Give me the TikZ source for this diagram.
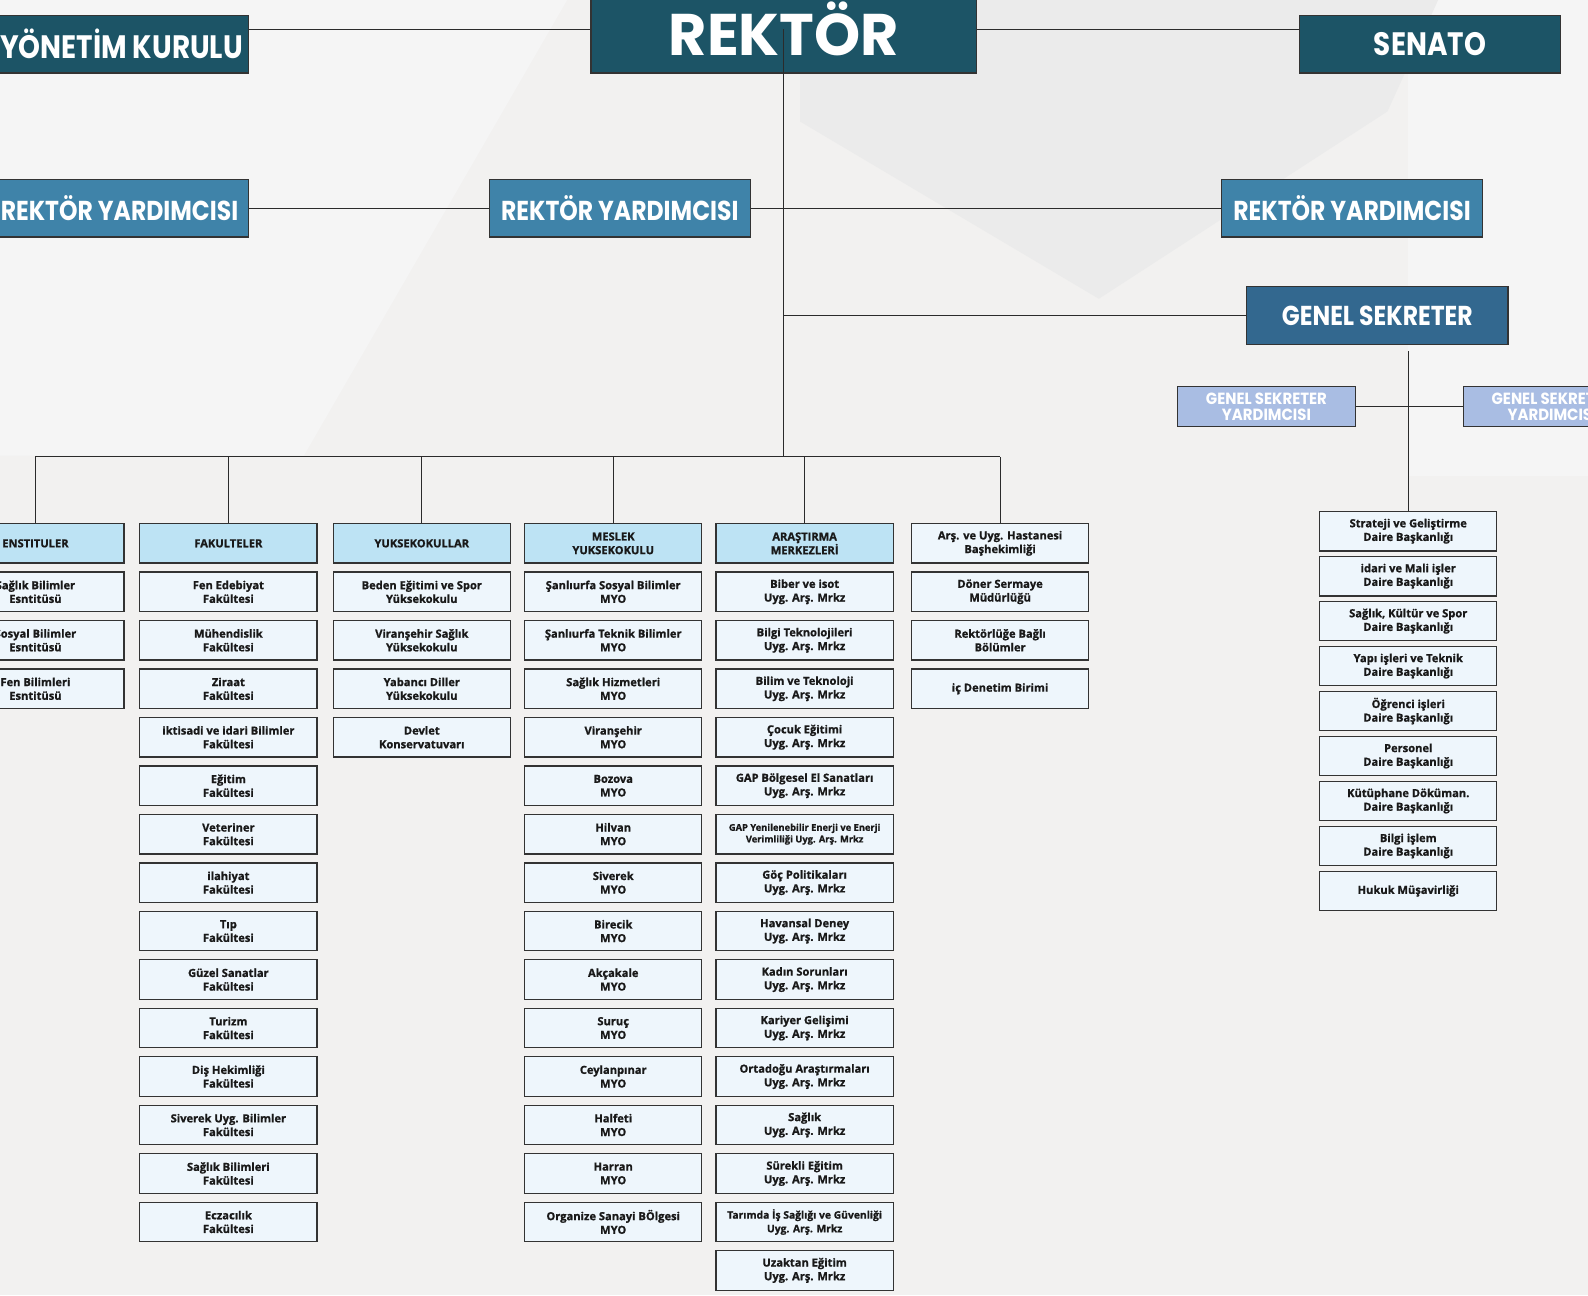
\documentclass[tikz,border=0pt]{standalone}
\usepackage{fontspec}
\usepackage{tikz}
\usetikzlibrary{positioning}
\newfontfamily\headfont[FakeStretch=0.86]{Poppins}
\newfontfamily\assistfont[FakeStretch=0.92]{Poppins}
\newfontfamily\bigfont{Poppins}
\newfontfamily\unitfont[BoldFeatures={FakeBold=1.0}]{Open Sans}
\definecolor{pagebg}{HTML}{F2F1F0}
\definecolor{shadebg}{HTML}{EBEBEB}
\definecolor{lightbg}{HTML}{F5F5F5}
\definecolor{rectorteal}{HTML}{1C5466}
\definecolor{deputyblue}{HTML}{3F83A9}
\definecolor{secblue}{HTML}{33688F}
\definecolor{assistblue}{HTML}{A9BDE3}
\definecolor{headblue}{HTML}{BDE3F4}
\definecolor{unitbg}{HTML}{EEF6FC}
\definecolor{edgegray}{HTML}{333333}
\definecolor{linegray}{HTML}{2B2B2B}

\begin{document}
\begin{tikzpicture}[x=1pt, y=-1pt,
    node distance=7.66pt,
    topbox/.style={rectangle, draw=edgegray, line width=1.2pt, fill=rectorteal, text=white, minimum width=258pt, minimum height=57pt, inner sep=0pt, font=\headfont\bfseries\fontsize{27}{30}\selectfont},
    deputy/.style={topbox, fill=deputyblue},
    secbox/.style={topbox, fill=secblue},
    assist/.style={rectangle, draw=edgegray, line width=1pt, fill=assistblue, text=white, minimum width=175pt, minimum height=39pt, inner sep=0pt, align=center, font=\assistfont\bfseries\fontsize{16}{16}\selectfont},
    unit/.style={rectangle, draw=edgegray, line width=1.2pt, fill=unitbg, text=black!90, minimum width=175pt, minimum height=39pt, inner sep=1pt, align=center, font=\unitfont\bfseries\fontsize{11}{13.5}\selectfont},
    head/.style={unit, fill=headblue},
    dept/.style={unit, below=4.2pt of #1},
    link/.style={draw=linegray, line width=1.1pt}
]

\useasboundingbox (0,0) rectangle (1568,1279);
\fill[pagebg] (0,0) rectangle (1568,1279);
\fill[lightbg] (0,0) -- (560,0) -- (300,450) -- (0,450) -- cycle;
\fill[lightbg] (1390,0) -- (1568,0) -- (1568,470) -- (1390,470) -- cycle;
\fill[shadebg] (790,0) -- (1420,0) -- (1370,110) -- (1085,295) -- (790,120) -- cycle;

\node[topbox, minimum width=381pt, minimum height=86pt, font=\bigfont\bfseries\fontsize{58}{60}\selectfont] (rektor) at (774,29) {REKTÖR};
\node[topbox, minimum width=250pt, font=\headfont\bfseries\fontsize{32}{34}\selectfont] (yk) at (120,43.5) {YÖNETİM KURULU};
\node[topbox, font=\headfont\bfseries\fontsize{32}{34}\selectfont] (senato) at (1412,43.5) {SENATO};
\node[deputy, minimum width=254pt] (ryleft) at (118,205.5) {REKTÖR YARDIMCISI};
\node[deputy] (rymid) at (612,205.5) {REKTÖR YARDIMCISI};
\node[deputy] (ryright) at (1335,205.5) {REKTÖR YARDIMCISI};
\node[secbox] (gensek) at (1360,311.5) {GENEL SEKRETER};
\node[assist] (gsyleft) at (1250.5,401.5) {GENEL SEKRETER\\YARDIMCISI};
\node[assist] (gsyright) at (1532.5,401.5) {GENEL SEKRETER\\YARDIMCISI};

\node[head] (enst) at (35,536.5) {ENSTITULER};
\node[head] (fak) at (225.5,536.5) {FAKULTELER};
\node[head] (yuk) at (416.5,536.5) {YUKSEKOKULLAR};
\node[head] (myo) at (605.5,536.5) {MESLEK\\YUKSEKOKULU};
\node[head] (arge) at (794.5,536.5) {ARAŞTIRMA\\MERKEZLERİ};
\node[unit] (hast) at (987.5,536.5) {Arş. ve Uyg. Hastanesi\\Başhekimliği};

\node[unit, below=of enst] (enst1) {Sağlık Bilimler\\Esntitüsü};
\node[unit, below=of enst1] (enst2) {Sosyal Bilimler\\Esntitüsü};
\node[unit, below=of enst2] (enst3) {Fen Bilimleri\\Esntitüsü};

\node[unit, below=of fak] (fak1) {Fen Edebiyat\\Fakültesi};
\node[unit, below=of fak1] (fak2) {Mühendislik\\Fakültesi};
\node[unit, below=of fak2] (fak3) {Ziraat\\Fakültesi};
\node[unit, below=of fak3] (fak4) {iktisadi ve idari Bilimler\\Fakültesi};
\node[unit, below=of fak4] (fak5) {Eğitim\\Fakültesi};
\node[unit, below=of fak5] (fak6) {Veteriner\\Fakültesi};
\node[unit, below=of fak6] (fak7) {ilahiyat\\Fakültesi};
\node[unit, below=of fak7] (fak8) {Tıp\\Fakültesi};
\node[unit, below=of fak8] (fak9) {Güzel Sanatlar\\Fakültesi};
\node[unit, below=of fak9] (fak10) {Turizm\\Fakültesi};
\node[unit, below=of fak10] (fak11) {Diş Hekimliği\\Fakültesi};
\node[unit, below=of fak11] (fak12) {Siverek Uyg. Bilimler\\Fakültesi};
\node[unit, below=of fak12] (fak13) {Sağlık Bilimleri\\Fakültesi};
\node[unit, below=of fak13] (fak14) {Eczacılık\\Fakültesi};

\node[unit, below=of yuk] (yuk1) {Beden Eğitimi ve Spor\\Yüksekokulu};
\node[unit, below=of yuk1] (yuk2) {Viranşehir Sağlık\\Yüksekokulu};
\node[unit, below=of yuk2] (yuk3) {Yabancı Diller\\Yüksekokulu};
\node[unit, below=of yuk3] (yuk4) {Devlet\\Konservatuvarı};

\node[unit, below=of myo] (myo1) {Şanlıurfa Sosyal Bilimler\\MYO};
\node[unit, below=of myo1] (myo2) {Şanlıurfa Teknik Bilimler\\MYO};
\node[unit, below=of myo2] (myo3) {Sağlık Hizmetleri\\MYO};
\node[unit, below=of myo3] (myo4) {Viranşehir\\MYO};
\node[unit, below=of myo4] (myo5) {Bozova\\MYO};
\node[unit, below=of myo5] (myo6) {Hilvan\\MYO};
\node[unit, below=of myo6] (myo7) {Siverek\\MYO};
\node[unit, below=of myo7] (myo8) {Birecik\\MYO};
\node[unit, below=of myo8] (myo9) {Akçakale\\MYO};
\node[unit, below=of myo9] (myo10) {Suruç\\MYO};
\node[unit, below=of myo10] (myo11) {Ceylanpınar\\MYO};
\node[unit, below=of myo11] (myo12) {Halfeti\\MYO};
\node[unit, below=of myo12] (myo13) {Harran\\MYO};
\node[unit, below=of myo13] (myo14) {Organize Sanayi BÖlgesi\\MYO};

\node[unit, below=of arge] (arge1) {Biber ve isot\\Uyg. Arş. Mrkz};
\node[unit, below=of arge1] (arge2) {Bilgi Teknolojileri\\Uyg. Arş. Mrkz};
\node[unit, below=of arge2] (arge3) {Bilim ve Teknoloji\\Uyg. Arş. Mrkz};
\node[unit, below=of arge3] (arge4) {Çocuk Eğitimi\\Uyg. Arş. Mrkz};
\node[unit, below=of arge4] (arge5) {GAP Bölgesel El Sanatları\\Uyg. Arş. Mrkz};
\node[unit, below=of arge5, font=\unitfont\bfseries\fontsize{9.2}{11.5}\selectfont] (arge6) {GAP Yenilenebilir Enerji ve Enerji\\Verimliliği Uyg. Arş. Mrkz};
\node[unit, below=of arge6] (arge7) {Göç Politikaları\\Uyg. Arş. Mrkz};
\node[unit, below=of arge7] (arge8) {Havansal Deney\\Uyg. Arş. Mrkz};
\node[unit, below=of arge8] (arge9) {Kadın Sorunları\\Uyg. Arş. Mrkz};
\node[unit, below=of arge9] (arge10) {Kariyer Gelişimi\\Uyg. Arş. Mrkz};
\node[unit, below=of arge10] (arge11) {Ortadoğu Araştırmaları\\Uyg. Arş. Mrkz};
\node[unit, below=of arge11] (arge12) {Sağlık\\Uyg. Arş. Mrkz};
\node[unit, below=of arge12] (arge13) {Sürekli Eğitim\\Uyg. Arş. Mrkz};
\node[unit, below=of arge13, font=\unitfont\bfseries\fontsize{10.2}{13.5}\selectfont] (arge14) {Tarımda İş Sağlığı ve Güvenliği\\Uyg. Arş. Mrkz};
\node[unit, below=of arge14] (arge15) {Uzaktan Eğitim\\Uyg. Arş. Mrkz};

\node[unit, below=of hast] (hast1) {Döner Sermaye\\Müdürlüğü};
\node[unit, below=of hast1] (hast2) {Rektörlüğe Bağlı\\Bölümler};
\node[unit, below=of hast2] (hast3) {iç Denetim Birimi};

\node[unit] (dept1) at (1390.5,524.5) {Strateji ve Geliştirme\\Daire Başkanlığı};
\node[dept=dept1] (dept2) {idari ve Mali işler\\Daire Başkanlığı};
\node[dept=dept2] (dept3) {Sağlık, Kültür ve Spor\\Daire Başkanlığı};
\node[dept=dept3] (dept4) {Yapı işleri ve Teknik\\Daire Başkanlığı};
\node[dept=dept4] (dept5) {Öğrenci işleri\\Daire Başkanlığı};
\node[dept=dept5] (dept6) {Personel\\Daire Başkanlığı};
\node[dept=dept6] (dept7) {Kütüphane Döküman.\\Daire Başkanlığı};
\node[dept=dept7] (dept8) {Bilgi işlem\\Daire Başkanlığı};
\node[dept=dept8] (dept9) {Hukuk Müşavirliği};

\coordinate (bus) at (774,451);
\coordinate (gsdrop) at (1390.5,347);

\draw[link] (yk.east |- rektor.west) -- (rektor.west);
\draw[link] (rektor.east) -- (rektor.east -| senato.west);
\draw[link] (ryleft) -- (rymid);
\draw[link] (rymid) -- (ryright);
\draw[link] (rektor.center) -- (bus);
\draw[link] (rektor.center |- gensek.west) -- (gensek.west);
\draw[link] (gsyleft) -- (gsyright);
\draw[link] (gsdrop) -- (dept1);
\draw[link] (enst.north |- bus) -- (hast.north |- bus);
\draw[link] (enst) -- (enst.north |- bus);
\draw[link] (fak) -- (fak.north |- bus);
\draw[link] (yuk) -- (yuk.north |- bus);
\draw[link] (myo) -- (myo.north |- bus);
\draw[link] (arge) -- (arge.north |- bus);
\draw[link] (hast) -- (hast.north |- bus);

\end{tikzpicture}
\end{document}
